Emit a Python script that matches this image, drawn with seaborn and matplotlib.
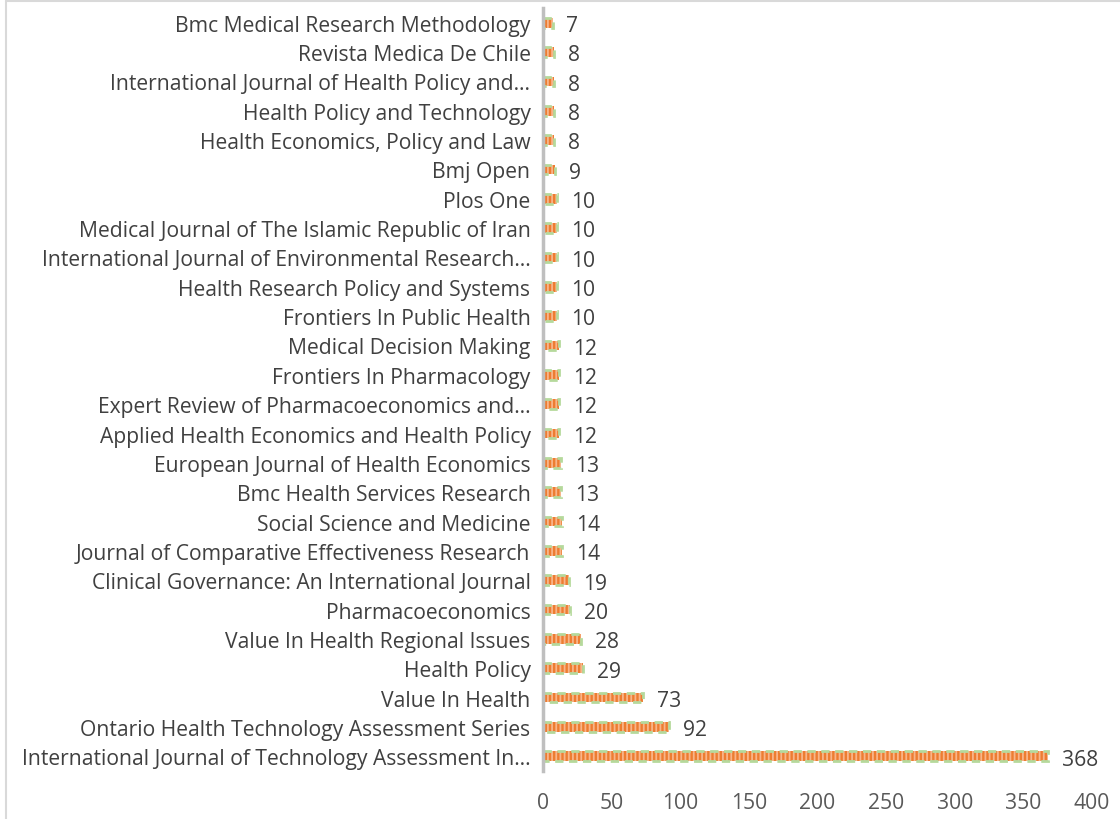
import matplotlib
matplotlib.use("Agg")
import matplotlib.pyplot as plt
import seaborn as sns
import pandas as pd
from matplotlib.lines import Line2D

journals = [
    "Bmc Medical Research Methodology",
    "Revista Medica De Chile",
    "International Journal of Health Policy and…",
    "Health Policy and Technology",
    "Health Economics, Policy and Law",
    "Bmj Open",
    "Plos One",
    "Medical Journal of The Islamic Republic of Iran",
    "International Journal of Environmental Research…",
    "Health Research Policy and Systems",
    "Frontiers In Public Health",
    "Medical Decision Making",
    "Frontiers In Pharmacology",
    "Expert Review of Pharmacoeconomics and…",
    "Applied Health Economics and Health Policy",
    "European Journal of Health Economics",
    "Bmc Health Services Research",
    "Social Science and Medicine",
    "Journal of Comparative Effectiveness Research",
    "Clinical Governance: An International Journal",
    "Pharmacoeconomics",
    "Value In Health Regional Issues",
    "Health Policy",
    "Value In Health",
    "Ontario Health Technology Assessment Series",
    "International Journal of Technology Assessment In…",
]
counts = [7, 8, 8, 8, 8, 9, 10, 10, 10, 10, 10, 12, 12, 12, 12, 13, 13, 14, 14, 19, 20, 28, 29, 73, 92, 368]
xticks = [0, 50, 100, 150, 200, 250, 300, 350, 400]

df = pd.DataFrame({"journal": journals, "count": counts})

sns.set_theme(style="white")
plt.rcParams["font.family"] = ["Open Sans", "DejaVu Sans"]
plt.rcParams["hatch.linewidth"] = 1.3

FS = 15.2

fig = plt.figure(figsize=(11.2, 8.2), dpi=100)
ax = fig.add_axes([543 / 1120, 1 - 772 / 820, (1092 - 543) / 1120, (772 - 9) / 820])

# base bars: orange with lighter vertical stripes
sns.barplot(data=df, x="count", y="journal", order=journals, ax=ax,
            color="#ED7D31", width=0.33, linewidth=0, edgecolor="#F8B58A",
            hatch="||||", saturation=1)
# overlay: green dashed outline
sns.barplot(data=df, x="count", y="journal", order=journals, ax=ax,
            color="none", width=0.33, linewidth=2.0, edgecolor="#B5D99C",
            saturation=1)
for p in ax.patches[len(journals):]:
    p.set_facecolor("none")
    p.set_linestyle((0, (3, 2)))

for p, v in zip(ax.patches[:len(journals)], counts):
    y = p.get_y() + p.get_height() / 2
    ax.annotate(str(v), (p.get_width(), y), xytext=(10, -2), textcoords="offset points",
                ha="left", va="center", fontsize=FS, color="#404040")

ax.set_xlim(0, 400)
ax.set_xticks(xticks)
ax.set_xticklabels([str(t) for t in xticks])
ax.set_xlabel("")
ax.set_ylabel("")
ax.tick_params(axis="x", length=0, pad=15, labelsize=FS, labelcolor="#595959")
ax.tick_params(axis="y", length=0, pad=9, labelsize=FS, labelcolor="#404040")
for s in ["top", "right", "bottom"]:
    ax.spines[s].set_visible(False)
ax.spines["left"].set_color("#BFBFBF")
ax.spines["left"].set_linewidth(2.5)

# outer chart border (left and top edges visible)
fig.add_artist(Line2D([5.5 / 1120, 5.5 / 1120], [0, 1 - 2 / 820], transform=fig.transFigure,
                      color="#D9D9D9", linewidth=1.5))
fig.add_artist(Line2D([5.5 / 1120, 1], [1 - 2 / 820, 1 - 2 / 820], transform=fig.transFigure,
                      color="#D9D9D9", linewidth=1.5))

fig.savefig("out.png", dpi=100)
